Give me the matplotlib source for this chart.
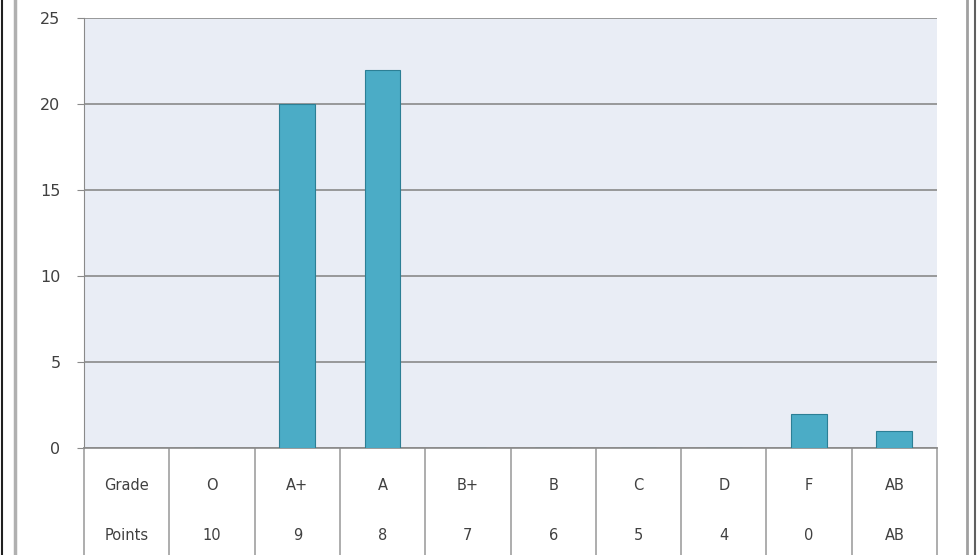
import matplotlib.pyplot as plt
from matplotlib.lines import Line2D
import matplotlib.transforms as mtransforms

grades = ["O", "A+", "A", "B+", "B", "C", "D", "F", "AB"]
points = ["10", "9", "8", "7", "6", "5", "4", "0", "AB"]
counts = [0, 20, 22, 0, 0, 0, 0, 2, 1]
row_names = ["Grade", "Points"]

W, H = 978, 555
fig = plt.figure(figsize=(W / 100, H / 100), dpi=100)
fig.patch.set_facecolor("white")

left, right, top, bottom = 84, 937, 18, 448
ax = fig.add_axes([left / W, 1 - bottom / H, (right - left) / W, (bottom - top) / H])
ax.set_facecolor("#E9EDF5")

txt = "#404040"
grid = "#8A8A8A"

# slot 0 is the header column of the data table
xs = list(range(1, len(grades) + 1))
ax.bar(xs, counts, width=0.42, color="#4BACC6", edgecolor="#2C7F95", linewidth=0.8, zorder=3)

ax.set_xlim(-0.5, len(grades) + 0.5)
ax.set_ylim(0, 25)
ax.set_yticks([0, 5, 10, 15, 20, 25])
ax.yaxis.grid(True, color=grid, linewidth=1.2)
ax.set_axisbelow(True)
ax.set_xticks([])
ax.tick_params(axis="y", length=5, color=grid, labelsize=11.5, labelcolor=txt, pad=12)
for side in ["top", "right"]:
    ax.spines[side].set_visible(False)
ax.spines["left"].set_color(grid)
ax.spines["bottom"].set_color(grid)
ax.spines["bottom"].set_linewidth(1.2)

# data table below the axis
trans = mtransforms.blended_transform_factory(ax.transData, ax.transAxes)
h_ax = (bottom - top)
y_row1 = -(485 - bottom) / h_ax
y_row2 = -(536 - bottom) / h_ax
y_end = -(H - bottom) / h_ax
for i in range(len(grades) + 2):
    ax.add_line(Line2D([i - 0.5, i - 0.5], [0, y_end], transform=trans,
                       color="#A0A0A0", linewidth=1.2, clip_on=False))
ax.text(0, y_row1, row_names[0], transform=trans, ha="center", va="center", fontsize=10.5, color=txt)
ax.text(0, y_row2, row_names[1], transform=trans, ha="center", va="center", fontsize=10.5, color=txt)
for x, g, p in zip(xs, grades, points):
    ax.text(x, y_row1, g, transform=trans, ha="center", va="center", fontsize=10.5, color=txt)
    ax.text(x, y_row2, p, transform=trans, ha="center", va="center", fontsize=10.5, color=txt)

# chart frame borders
for xp, c, lw in [(2, "#202020", 1.5), (15, "#B0B0B0", 2.5), (967, "#A0A0A0", 2.0), (975, "#606060", 1.5)]:
    fig.add_artist(Line2D([xp / W, xp / W], [0, 1], color=c, linewidth=lw))

plt.savefig("out.png", dpi=100)
